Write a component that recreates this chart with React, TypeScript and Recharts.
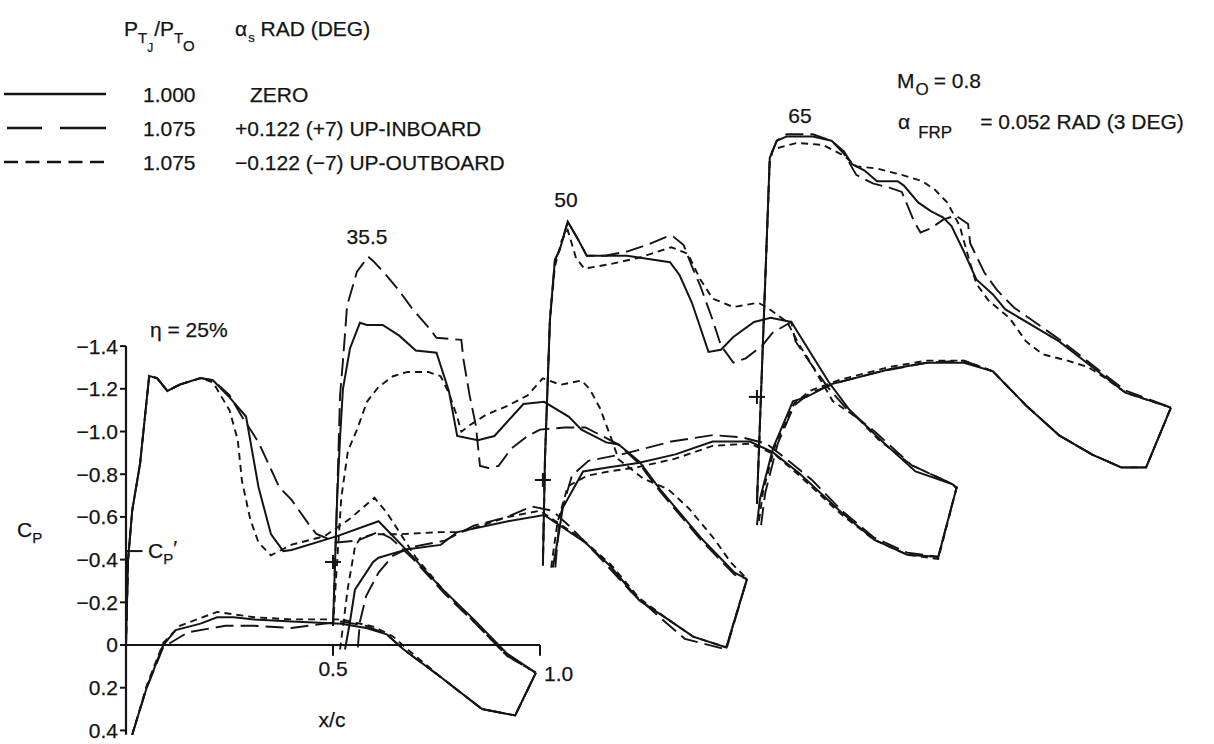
import { ComposedChart, Line, Scatter, XAxis, YAxis, ReferenceLine } from "recharts";

type Pt = [number, number];

// each station is drawn shifted: x/c offset and Cp offset of its origin
const STATION_DX = [0, 0.5, 1.007, 1.524];
const STATION_DCP = [0, -0.389, -0.773, -1.162];

const Y_TICKS = [-1.4, -1.2, -1.0, -0.8, -0.6, -0.4, -0.2, 0, 0.2, 0.4];
const X_TICKS = [0.5, 1.0];
const CP_PRIME = -0.44;

// eta = 25%
const S1_ZERO_UPPER: Pt[] = [[0, 0], [0.005, -0.4], [0.015, -0.63], [0.034, -0.85], [0.056, -1.26], [0.075, -1.25], [0.1, -1.19], [0.13, -1.22], [0.18, -1.25], [0.21, -1.24], [0.25, -1.16], [0.29, -1.07], [0.32, -0.74], [0.35, -0.52], [0.38, -0.44], [0.4, -0.445], [0.51, -0.51], [0.61, -0.58], [0.63, -0.54], [0.68, -0.44], [0.76, -0.27], [0.84, -0.12], [0.92, 0.04], [0.99, 0.13]];
const S1_INBOARD_UPPER: Pt[] = [[0, 0], [0.005, -0.4], [0.015, -0.63], [0.034, -0.85], [0.056, -1.26], [0.075, -1.25], [0.1, -1.19], [0.13, -1.22], [0.18, -1.25], [0.21, -1.24], [0.25, -1.17], [0.28, -1.07], [0.32, -0.95], [0.37, -0.74], [0.4, -0.68], [0.44, -0.57], [0.46, -0.52], [0.51, -0.48], [0.56, -0.49], [0.61, -0.53], [0.64, -0.5], [0.69, -0.41], [0.77, -0.24], [0.85, -0.09], [0.92, 0.05], [0.99, 0.13]];
const S1_OUTBOARD_UPPER: Pt[] = [[0, 0], [0.005, -0.4], [0.015, -0.63], [0.034, -0.85], [0.056, -1.26], [0.075, -1.25], [0.1, -1.19], [0.13, -1.22], [0.18, -1.25], [0.21, -1.23], [0.25, -1.1], [0.27, -0.96], [0.28, -0.77], [0.3, -0.59], [0.32, -0.48], [0.35, -0.42], [0.4, -0.47], [0.48, -0.51], [0.54, -0.59], [0.6, -0.69], [0.63, -0.62], [0.66, -0.53], [0.7, -0.41], [0.77, -0.25], [0.85, -0.09], [0.92, 0.05], [0.99, 0.13]];
const S1_ZERO_LOWER: Pt[] = [[0.015, 0.42], [0.05, 0.2], [0.09, 0], [0.12, -0.07], [0.18, -0.1], [0.22, -0.13], [0.26, -0.13], [0.31, -0.12], [0.4, -0.11], [0.52, -0.1], [0.58, -0.08], [0.63, -0.05], [0.67, 0.02], [0.76, 0.15], [0.86, 0.3], [0.94, 0.33], [0.99, 0.13]];
const S1_INBOARD_LOWER: Pt[] = [[0.015, 0.42], [0.05, 0.2], [0.09, 0.01], [0.15, -0.06], [0.24, -0.09], [0.31, -0.09], [0.4, -0.08], [0.52, -0.11], [0.58, -0.09], [0.63, -0.05], [0.67, 0.02], [0.76, 0.15], [0.86, 0.3], [0.94, 0.33], [0.99, 0.13]];
const S1_OUTBOARD_LOWER: Pt[] = [[0.015, 0.42], [0.05, 0.19], [0.09, -0.01], [0.13, -0.09], [0.22, -0.155], [0.31, -0.13], [0.4, -0.12], [0.52, -0.12], [0.6, -0.085], [0.645, -0.04], [0.68, 0.02], [0.76, 0.15], [0.86, 0.3], [0.94, 0.33], [0.99, 0.13]];

// eta = 35.5%
const S2_ZERO_UPPER: Pt[] = [[0, 0.3], [0.01, -0.3], [0.017, -0.58], [0.024, -0.81], [0.041, -1.0], [0.065, -1.12], [0.082, -1.11], [0.12, -1.11], [0.16, -1.06], [0.2, -0.99], [0.25, -0.98], [0.28, -0.8], [0.3, -0.59], [0.35, -0.57], [0.39, -0.59], [0.46, -0.74], [0.51, -0.75], [0.57, -0.68], [0.6, -0.62], [0.66, -0.56], [0.69, -0.55], [0.74, -0.47], [0.79, -0.34], [0.89, -0.11], [0.97, 0.05], [1.0, 0.08]];
const S2_INBOARD_UPPER: Pt[] = [[0, 0.3], [0.01, -0.3], [0.017, -0.78], [0.024, -0.94], [0.034, -1.2], [0.058, -1.36], [0.085, -1.43], [0.097, -1.41], [0.13, -1.34], [0.16, -1.27], [0.19, -1.19], [0.23, -1.1], [0.25, -1.05], [0.31, -1.04], [0.315, -0.95], [0.33, -0.78], [0.345, -0.64], [0.355, -0.45], [0.375, -0.44], [0.4, -0.45], [0.43, -0.53], [0.47, -0.59], [0.5, -0.62], [0.56, -0.63], [0.61, -0.63], [0.65, -0.59], [0.69, -0.55], [0.74, -0.46], [0.79, -0.33], [0.89, -0.1], [0.97, 0.06], [1.0, 0.08]];
const S2_OUTBOARD_UPPER: Pt[] = [[0, 0.3], [0.02, -0.3], [0.036, -0.52], [0.058, -0.62], [0.082, -0.75], [0.11, -0.82], [0.145, -0.87], [0.18, -0.89], [0.23, -0.89], [0.26, -0.87], [0.28, -0.79], [0.3, -0.68], [0.31, -0.61], [0.33, -0.64], [0.37, -0.69], [0.42, -0.73], [0.47, -0.78], [0.507, -0.86], [0.55, -0.83], [0.6, -0.85], [0.62, -0.81], [0.645, -0.72], [0.67, -0.59], [0.69, -0.48], [0.75, -0.39], [0.81, -0.34], [0.86, -0.25], [0.92, -0.11], [0.96, 0], [1.0, 0.08]];
const S2_ZERO_LOWER: Pt[] = [[0.029, 0.41], [0.041, 0.28], [0.053, 0.13], [0.097, 0], [0.11, -0.02], [0.18, -0.06], [0.26, -0.08], [0.3, -0.14], [0.42, -0.19], [0.51, -0.22], [0.61, -0.09], [0.67, 0.02], [0.74, 0.18], [0.81, 0.27], [0.87, 0.35], [0.95, 0.4], [1.0, 0.08]];
const S2_INBOARD_LOWER: Pt[] = [[0.06, 0.4], [0.065, 0.28], [0.08, 0.16], [0.11, 0.05], [0.145, -0.03], [0.19, -0.07], [0.27, -0.1], [0.34, -0.17], [0.42, -0.21], [0.48, -0.26], [0.53, -0.24], [0.57, -0.17], [0.64, -0.03], [0.72, 0.14], [0.79, 0.26], [0.85, 0.36], [0.95, 0.41], [1.0, 0.08]];
const S2_OUTBOARD_LOWER: Pt[] = [[0.017, 0.41], [0.036, 0.12], [0.053, -0.07], [0.065, -0.11], [0.097, -0.13], [0.16, -0.13], [0.26, -0.14], [0.31, -0.14], [0.42, -0.21], [0.5, -0.24], [0.6, -0.11], [0.67, 0.01], [0.74, 0.17], [0.81, 0.27], [0.87, 0.35], [0.95, 0.4], [1.0, 0.08]];

// eta = 50%
const S3_ZERO_UPPER: Pt[] = [[0, 0.4], [0.005, -0.1], [0.017, -0.75], [0.029, -1.03], [0.041, -1.08], [0.06, -1.21], [0.084, -1.13], [0.106, -1.05], [0.203, -1.05], [0.307, -1.02], [0.33, -0.96], [0.36, -0.83], [0.4, -0.6], [0.43, -0.61], [0.46, -0.67], [0.51, -0.74], [0.55, -0.76], [0.6, -0.74], [0.69, -0.46], [0.74, -0.33], [0.82, -0.18], [0.9, -0.04], [0.99, 0.02], [1.0, 0.04]];
const S3_INBOARD_UPPER: Pt[] = [[0, 0.4], [0.005, -0.1], [0.017, -0.75], [0.029, -1.03], [0.041, -1.08], [0.06, -1.21], [0.084, -1.13], [0.106, -1.05], [0.15, -1.05], [0.203, -1.07], [0.25, -1.1], [0.3, -1.14], [0.315, -1.14], [0.34, -1.1], [0.36, -1.0], [0.38, -0.91], [0.41, -0.75], [0.43, -0.63], [0.46, -0.55], [0.49, -0.57], [0.53, -0.63], [0.555, -0.69], [0.6, -0.74], [0.61, -0.65], [0.645, -0.55], [0.69, -0.43], [0.74, -0.32], [0.8, -0.23], [0.89, -0.07], [0.99, 0.02], [1.0, 0.04]];
const S3_OUTBOARD_UPPER: Pt[] = [[0, 0.4], [0.005, -0.1], [0.017, -0.75], [0.029, -1.0], [0.045, -1.12], [0.06, -1.17], [0.08, -1.04], [0.1, -0.99], [0.16, -1.01], [0.23, -1.04], [0.31, -1.09], [0.35, -1.06], [0.38, -0.94], [0.41, -0.85], [0.46, -0.81], [0.52, -0.83], [0.54, -0.81], [0.59, -0.74], [0.62, -0.63], [0.64, -0.57], [0.67, -0.47], [0.7, -0.37], [0.76, -0.29], [0.81, -0.19], [0.89, -0.07], [0.99, 0.02], [1.0, 0.04]];
const S3_ZERO_LOWER: Pt[] = [[0.024, 0.41], [0.036, 0.28], [0.048, 0.13], [0.097, -0.04], [0.16, -0.06], [0.23, -0.08], [0.32, -0.12], [0.41, -0.18], [0.5, -0.18], [0.555, -0.13], [0.62, -0.03], [0.72, 0.15], [0.8, 0.28], [0.88, 0.35], [0.955, 0.36], [1.0, 0.03]];
const S3_INBOARD_LOWER: Pt[] = [[0.03, 0.41], [0.04, 0.18], [0.07, -0.02], [0.11, -0.09], [0.19, -0.12], [0.31, -0.18], [0.41, -0.21], [0.48, -0.2], [0.54, -0.17], [0.6, -0.08], [0.65, 0], [0.72, 0.14], [0.8, 0.27], [0.88, 0.34], [0.955, 0.36], [1.0, 0.03]];
const S3_OUTBOARD_LOWER: Pt[] = [[0.02, 0.41], [0.035, 0.2], [0.06, 0.03], [0.107, -0.02], [0.16, -0.04], [0.23, -0.06], [0.32, -0.1], [0.41, -0.16], [0.5, -0.17], [0.56, -0.12], [0.62, -0.02], [0.72, 0.16], [0.8, 0.28], [0.88, 0.35], [0.955, 0.37], [1.0, 0.03]];

// eta = 65%
const S4_ZERO_UPPER: Pt[] = [[0, 0.5], [0.031, -1.12], [0.048, -1.2], [0.072, -1.22], [0.135, -1.22], [0.18, -1.2], [0.21, -1.15], [0.23, -1.09], [0.26, -1.06], [0.29, -1.01], [0.34, -1.01], [0.355, -0.99], [0.39, -0.91], [0.42, -0.87], [0.45, -0.84], [0.47, -0.8], [0.5, -0.68], [0.53, -0.55], [0.57, -0.48], [0.6, -0.41], [0.73, -0.26], [0.83, -0.11], [0.89, -0.02], [1.0, 0.05]];
const S4_INBOARD_UPPER: Pt[] = [[0, 0.5], [0.031, -1.12], [0.048, -1.2], [0.072, -1.23], [0.135, -1.23], [0.18, -1.2], [0.21, -1.14], [0.24, -1.04], [0.28, -1.0], [0.32, -0.98], [0.35, -0.96], [0.38, -0.82], [0.395, -0.77], [0.42, -0.79], [0.45, -0.83], [0.48, -0.85], [0.51, -0.81], [0.515, -0.72], [0.55, -0.58], [0.58, -0.5], [0.62, -0.42], [0.73, -0.27], [0.83, -0.12], [0.89, -0.03], [1.0, 0.05]];
const S4_OUTBOARD_UPPER: Pt[] = [[0, 0.5], [0.031, -1.1], [0.039, -1.16], [0.097, -1.19], [0.16, -1.18], [0.21, -1.13], [0.24, -1.08], [0.29, -1.07], [0.35, -1.04], [0.4, -1.01], [0.43, -0.97], [0.46, -0.91], [0.49, -0.8], [0.51, -0.66], [0.53, -0.53], [0.56, -0.45], [0.61, -0.37], [0.65, -0.26], [0.69, -0.2], [0.75, -0.17], [0.8, -0.14], [0.84, -0.09], [0.89, -0.02], [1.0, 0.05]];
const S4_ZERO_LOWER: Pt[] = [[0, 0.6], [0.007, 0.48], [0.039, 0.24], [0.087, 0.02], [0.12, 0], [0.18, -0.06], [0.32, -0.13], [0.41, -0.16], [0.5, -0.16], [0.57, -0.12], [0.65, 0.04], [0.73, 0.18], [0.81, 0.27], [0.88, 0.33], [0.94, 0.33], [1.0, 0.05]];
const S4_INBOARD_LOWER: Pt[] = [[0.01, 0.6], [0.02, 0.45], [0.05, 0.22], [0.09, 0.04], [0.13, -0.02], [0.2, -0.07], [0.3, -0.12], [0.41, -0.16], [0.5, -0.17], [0.57, -0.12], [0.65, 0.04], [0.73, 0.18], [0.81, 0.27], [0.88, 0.33], [0.94, 0.33], [1.0, 0.05]];
const S4_OUTBOARD_LOWER: Pt[] = [[0.005, 0.58], [0.015, 0.44], [0.045, 0.22], [0.09, 0.03], [0.13, -0.03], [0.2, -0.08], [0.32, -0.14], [0.41, -0.17], [0.5, -0.17], [0.57, -0.12], [0.65, 0.04], [0.73, 0.18], [0.81, 0.27], [0.88, 0.33], [0.94, 0.33], [1.0, 0.05]];

const INK = "#141414";
const FONT = "'Liberation Sans', Arial, sans-serif";
const DASH: Record<string, string | undefined> = {
  zero: undefined,
  inboard: "18 7",
  outboard: "7 5",
};

const CURVES: { station: number; config: string; pts: Pt[] }[] = [
  { station: 0, config: "zero", pts: S1_ZERO_UPPER },
  { station: 0, config: "inboard", pts: S1_INBOARD_UPPER },
  { station: 0, config: "outboard", pts: S1_OUTBOARD_UPPER },
  { station: 0, config: "zero", pts: S1_ZERO_LOWER },
  { station: 0, config: "inboard", pts: S1_INBOARD_LOWER },
  { station: 0, config: "outboard", pts: S1_OUTBOARD_LOWER },
  { station: 1, config: "zero", pts: S2_ZERO_UPPER },
  { station: 1, config: "inboard", pts: S2_INBOARD_UPPER },
  { station: 1, config: "outboard", pts: S2_OUTBOARD_UPPER },
  { station: 1, config: "zero", pts: S2_ZERO_LOWER },
  { station: 1, config: "inboard", pts: S2_INBOARD_LOWER },
  { station: 1, config: "outboard", pts: S2_OUTBOARD_LOWER },
  { station: 2, config: "zero", pts: S3_ZERO_UPPER },
  { station: 2, config: "inboard", pts: S3_INBOARD_UPPER },
  { station: 2, config: "outboard", pts: S3_OUTBOARD_UPPER },
  { station: 2, config: "zero", pts: S3_ZERO_LOWER },
  { station: 2, config: "inboard", pts: S3_INBOARD_LOWER },
  { station: 2, config: "outboard", pts: S3_OUTBOARD_LOWER },
  { station: 3, config: "zero", pts: S4_ZERO_UPPER },
  { station: 3, config: "inboard", pts: S4_INBOARD_UPPER },
  { station: 3, config: "outboard", pts: S4_OUTBOARD_UPPER },
  { station: 3, config: "zero", pts: S4_ZERO_LOWER },
  { station: 3, config: "inboard", pts: S4_INBOARD_LOWER },
  { station: 3, config: "outboard", pts: S4_OUTBOARD_LOWER },
];

const toPlot = (station: number, pts: Pt[]) =>
  pts.map(([x, cp]) => ({ x: x + STATION_DX[station], cp: cp + STATION_DCP[station] }));

const origins = [1, 2, 3].map((i) => ({ x: STATION_DX[i], cp: STATION_DCP[i] }));

function Cross(props: { cx?: number; cy?: number }) {
  const { cx = 0, cy = 0 } = props;
  return (
    <g stroke={INK} strokeWidth={2}>
      <line x1={cx - 8} y1={cy} x2={cx + 8} y2={cy} />
      <line x1={cx} y1={cy - 7} x2={cx} y2={cy + 7} />
    </g>
  );
}

const fmtCp = (v: number) => (v === 0 ? "0" : v < 0 ? `\u2212${Math.abs(v).toFixed(1)}` : v.toFixed(1));

function Overlay() {
  const t = { fontFamily: FONT, fill: INK, fontSize: 21, stroke: INK, strokeWidth: 0.25 } as const;
  return (
    <svg width={1214} height={744} style={{ position: "absolute", left: 0, top: 0, pointerEvents: "none" }}>
      {/* legend header */}
      <text x={124} y={36} {...t}>
        P<tspan fontSize={15} dy={7}>T</tspan>
        <tspan fontSize={12} dy={9}>J</tspan>
        <tspan dy={-16} dx={1}>/P</tspan>
        <tspan fontSize={15} dy={7}>T</tspan>
        <tspan fontSize={15} dy={8}>O</tspan>
      </text>
      <text x={235} y={36} {...t}>
        α<tspan fontSize={13} dy={6} dx={1}>s</tspan>
        <tspan dy={-6}> RAD (DEG)</tspan>
      </text>
      {/* legend rows */}
      <line x1={4} y1={94} x2={106} y2={94} stroke={INK} strokeWidth={2.6} />
      <line x1={7} y1={128} x2={106} y2={128} stroke={INK} strokeWidth={2.6} strokeDasharray="35 18 46" />
      <line x1={4} y1={162} x2={106} y2={162} stroke={INK} strokeWidth={2.6} strokeDasharray="14 7.5" />
      <text x={143} y={102} {...t}>1.000</text>
      <text x={143} y={136} {...t}>1.075</text>
      <text x={143} y={170} {...t}>1.075</text>
      <text x={250} y={102} {...t}>ZERO</text>
      <text x={235} y={136} {...t}>+0.122 (+7) UP-INBOARD</text>
      <text x={235} y={170} {...t}>{"\u22120.122 (\u22127) UP-OUTBOARD"}</text>
      {/* flight condition */}
      <text x={897} y={88} {...t}>
        M<tspan fontSize={17} dy={7} dx={1}>O</tspan>
        <tspan dy={-7} dx={5}>= 0.8</tspan>
      </text>
      <text x={898} y={129} {...t}>
        α<tspan fontSize={17} dy={9} dx={8}>FRP</tspan>
        <tspan dy={-9} dx={28}>= 0.052 RAD (3 DEG)</tspan>
      </text>
      {/* station labels */}
      <text x={150} y={337} {...t}>η = 25%</text>
      <text x={367} y={244} textAnchor="middle" {...t}>35.5</text>
      <text x={566} y={207} textAnchor="middle" {...t}>50</text>
      <text x={800} y={123} textAnchor="middle" {...t}>65</text>
      {/* axis titles and x ticks */}
      <text x={17} y={537} {...t}>
        C<tspan fontSize={15} dy={6}>P</tspan>
      </text>
      <text x={148} y={558} {...t}>
        C<tspan fontSize={15} dy={6}>P</tspan>
        <tspan dy={-9}>′</tspan>
      </text>
      <text x={333} y={676} textAnchor="middle" {...t}>0.5</text>
      <text x={544} y={681} {...t}>1.0</text>
      <text x={332} y={727} textAnchor="middle" {...t}>x/c</text>
    </svg>
  );
}

export default function App() {
  return (
    <div style={{ position: "absolute", left: 0, top: 0, width: 1214, height: 744, background: "#fff" }}>
      <ComposedChart width={1214} height={744} margin={{ top: 4.5, right: 11.6, bottom: 2.9, left: 0 }}>
        <XAxis dataKey="x" type="number" domain={[0, 2.6]} allowDataOverflow hide />
        <YAxis
          dataKey="cp"
          type="number"
          domain={[-3.0, 0.45]}
          allowDataOverflow
          reversed
          width={126}
          ticks={Y_TICKS}
          tickFormatter={fmtCp}
          axisLine={false}
          tickSize={6}
          tickMargin={2}
          tickLine={{ stroke: INK, strokeWidth: 2 }}
          tick={{ fill: INK, fontSize: 21, fontFamily: FONT, stroke: INK, strokeWidth: 0.25 }}
        />
        <ReferenceLine segment={[{ x: 0, y: -1.4 }, { x: 0, y: 0.42 }]} stroke={INK} strokeWidth={2.2} />
        <ReferenceLine segment={[{ x: 0, y: 0 }, { x: 1, y: 0 }]} stroke={INK} strokeWidth={2.2} />
        {X_TICKS.map((v) => (
          <ReferenceLine key={v} segment={[{ x: v, y: 0 }, { x: v, y: 0.05 }]} stroke={INK} strokeWidth={2} />
        ))}
        <ReferenceLine segment={[{ x: 0, y: CP_PRIME }, { x: 0.04, y: CP_PRIME }]} stroke={INK} strokeWidth={2} />
        {CURVES.map((c, i) => (
          <Line
            key={i}
            data={toPlot(c.station, c.pts)}
            dataKey="cp"
            type="linear"
            stroke={INK}
            strokeWidth={c.config === "zero" ? 2 : 1.9}
            strokeDasharray={DASH[c.config]}
            dot={false}
            activeDot={false}
            isAnimationActive={false}
          />
        ))}
        <Scatter data={origins} dataKey="cp" shape={<Cross />} isAnimationActive={false} />
      </ComposedChart>
      <Overlay />
    </div>
  );
}
